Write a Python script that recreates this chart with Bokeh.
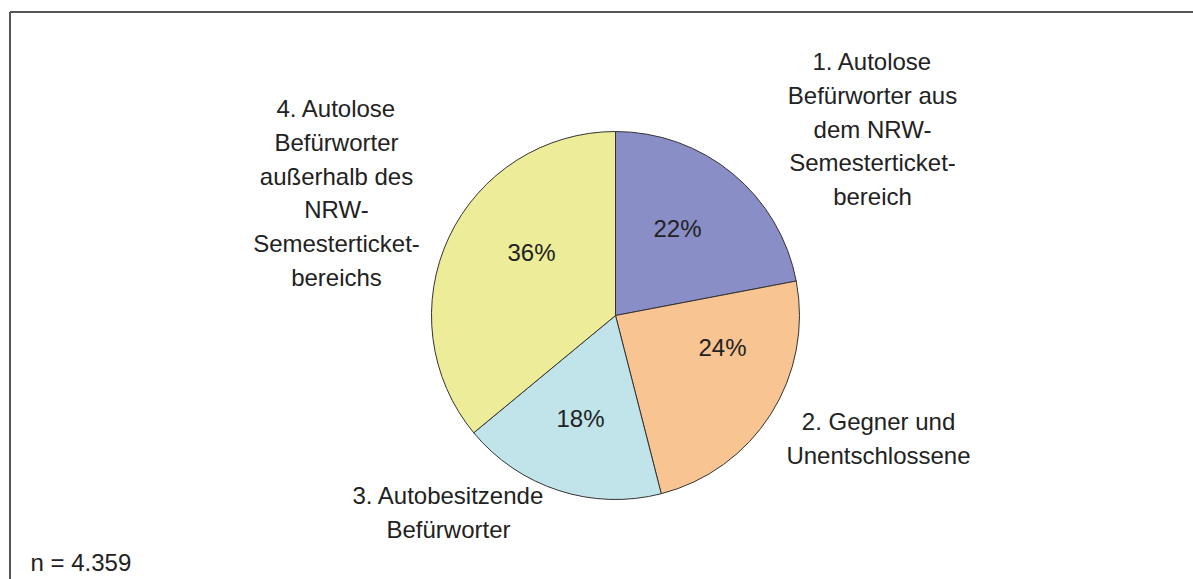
import numpy as np
from bokeh.plotting import figure
from bokeh.models import ColumnDataSource, Range1d
from bokeh.core.properties import value
from bokeh.embed import file_html
from bokeh.resources import INLINE

# ---- data ----
categories = [
    "1. Autolose Befürworter aus dem NRW-Semesterticket-bereich",
    "2. Gegner und Unentschlossene",
    "3. Autobesitzende Befürworter",
    "4. Autolose Befürworter außerhalb des NRW-Semesterticket-bereichs",
]
label_lines = [
    ["1. Autolose", "Befürworter aus", "dem NRW-", "Semesterticket-", "bereich"],
    ["2. Gegner und", "Unentschlossene"],
    ["3. Autobesitzende", "Befürworter"],
    ["4. Autolose", "Befürworter", "außerhalb des", "NRW-", "Semesterticket-", "bereichs"],
]
shares = [22, 24, 18, 36]
colors = ["#8A8EC6", "#F7C492", "#C0E4EA", "#ECEC99"]
n_note = "n = 4.359"

# ---- layout ----
W, H = 1193, 579
def px(x):  # picture x -> data x
    return x
def py(y):  # picture y -> data y
    return H - y

cx, cy, R = px(615), py(315), 184
font = "Liberation Sans"
fs = "24px"
line_h = 33.8

p = figure(width=W, height=H, output_backend="svg", toolbar_location=None,
           x_range=Range1d(0, W), y_range=Range1d(0, H), min_border=0)
p.axis.visible = False
p.grid.visible = False
p.outline_line_color = None
p.background_fill_color = "white"

# pie wedges from shares
frac = np.array(shares, dtype=float) / sum(shares)
ends = np.pi / 2 - 2 * np.pi * np.cumsum(frac)
starts = np.concatenate([[np.pi / 2], ends[:-1]])
src = ColumnDataSource(dict(start=starts, end=ends, color=colors, cat=categories))
p.wedge(x=cx, y=cy, radius=R, start_angle="start", end_angle="end",
        direction="clock", fill_color="color", line_color="#333333",
        line_width=1, source=src)

# percent labels
pct_pos = [(677, 228), (722, 347), (580, 418), (531, 252)]
p.text(x=[px(a) for a, b in pct_pos], y=[py(b) for a, b in pct_pos],
       text=[f"{s}%" for s in shares], text_align="center",
       text_baseline="middle", text_font=value(font), text_font_size=fs,
       text_color="#222222")

# category labels
anchors = [(872, 61), (878, 421), (448, 495), (336, 108)]
xs, ys, ts = [], [], []
for (ax, ay), lines in zip(anchors, label_lines):
    for i, t in enumerate(lines):
        xs.append(px(ax))
        ys.append(py(ay + i * line_h))
        ts.append(t)
p.text(x=xs, y=ys, text=ts, text_align="center", text_baseline="middle",
       text_font=value(font), text_font_size=fs, text_color="#222222")

# n note
p.text(x=[px(30)], y=[py(562)], text=[n_note], text_align="left",
       text_baseline="middle", text_font=value(font), text_font_size=fs,
       text_color="#222222")

# frame
p.segment(x0=[px(9.5), px(9.5)], y0=[py(11.5), py(11.5)],
          x1=[px(9.5), px(1300)], y1=[py(700), py(11.5)],
          line_color="#555555", line_width=2)

open("out.html", "w").write(file_html(p, INLINE))
